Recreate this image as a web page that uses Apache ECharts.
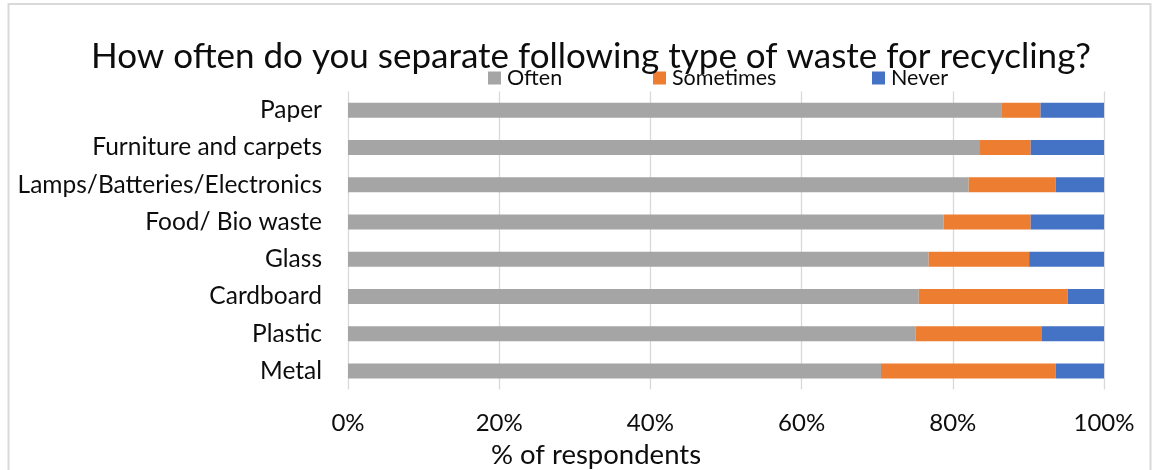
<!DOCTYPE html>
<html>
<head>
<meta charset="utf-8">
<style>
  html, body { margin: 0; padding: 0; background: #ffffff; }
  #chart { width: 1154px; height: 470px; }
</style>
<script src="https://cdn.jsdelivr.net/npm/echarts@6/dist/echarts.min.js"></script>
</head>
<body>
<div id="chart"></div>
<script>
// Waste types, top to bottom
const categories = ['Paper', 'Furniture and carpets', 'Lamps/Batteries/Electronics', 'Food/ Bio waste', 'Glass', 'Cardboard', 'Plastic', 'Metal'];
// Share of respondents (%) for each answer
const often     = [86.5, 83.6, 82.1, 78.8, 76.8, 75.5, 75.1, 70.5];
const sometimes = [5.1, 6.7, 11.5, 11.5, 13.3, 19.7, 16.7, 23.1];
const never     = [8.4, 9.7, 6.4, 9.7, 9.9, 4.8, 8.2, 6.4];
const seriesNames = ['Often', 'Sometimes', 'Never'];
const seriesColors = ['#a5a5a5', '#ed7d31', '#4472c4'];
const tickValues = [0, 20, 40, 60, 80, 100];

const FONT = 'Lato';
const TEXT = '#0d0d0d';

const chart = echarts.init(document.getElementById('chart'), null, { renderer: 'canvas' });

const values = [often, sometimes, never];
const legendLeft = [488, 653, 872];

chart.setOption({
  animation: false,
  backgroundColor: '#ffffff',
  title: [
    {
      text: 'How often do you separate following type of waste for recycling?',
      left: 586, top: 34, textAlign: 'center',
      textStyle: { fontFamily: FONT, fontSize: 35, fontWeight: 'normal', color: TEXT, lineHeight: 35 }
    },
    {
      text: '% of respondents',
      left: 591, top: 437, textAlign: 'center',
      textStyle: { fontFamily: FONT, fontSize: 27.5, fontWeight: 'normal', color: TEXT, lineHeight: 27 }
    }
  ],
  legend: seriesNames.map((n, i) => ({
    data: [n], left: legendLeft[i], top: 67,
    icon: 'rect', itemWidth: 13, itemHeight: 13, itemGap: 0,
    padding: 0,
    textStyle: { fontFamily: FONT, fontSize: 21.5, color: TEXT, padding: [0, 0, 0, 1] }
  })),
  grid: { left: 348, right: 50, top: 91.5, bottom: 80.5, containLabel: false },
  xAxis: {
    type: 'value', min: 0, max: 100, interval: 20,
    axisLine: { show: false }, axisTick: { show: false },
    splitLine: { show: true, lineStyle: { color: '#d9d9d9', width: 1.3 } },
    axisLabel: {
      fontFamily: FONT, fontSize: 24, color: TEXT, margin: 22, lineHeight: 24,
      formatter: v => (tickValues.includes(v) ? v + '%' : '')
    }
  },
  yAxis: {
    type: 'category', data: categories, inverse: true,
    axisLine: { show: false }, axisTick: { show: false },
    axisLabel: { fontFamily: FONT, fontSize: 24.5, color: TEXT, margin: 26 }
  },
  series: seriesNames.map((n, i) => ({
    name: n, type: 'bar', stack: 'total', barWidth: 15,
    itemStyle: { color: seriesColors[i] },
    data: values[i]
  })),
  graphic: [{
    type: 'rect', silent: true, z: -1,
    shape: { x: 8.5, y: 4, width: 1142, height: 500 },
    style: { fill: 'none', stroke: '#d9d9d9', lineWidth: 2 }
  }]
});
</script>
</body>
</html>
